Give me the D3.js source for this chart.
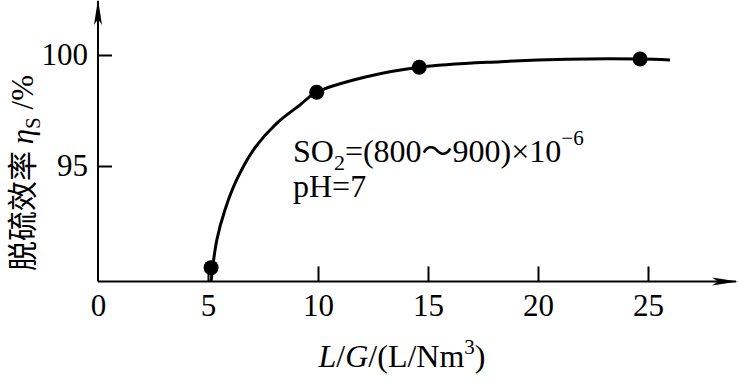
<!DOCTYPE html>
<html>
<head>
<meta charset="utf-8">
<script src="https://cdn.jsdelivr.net/npm/d3@7"></script>
<style>
  html, body { margin: 0; padding: 0; background: #fff; }
  svg { display: block; }
  text { font-family: "Liberation Serif", "Noto Sans CJK SC", serif; fill: #000; }
</style>
</head>
<body>
<div id="chart"></div>
<script>
// measured points (L/G vs desulfurization efficiency)
const pointsX = [5.14, 9.94, 14.6, 24.64];
const pointsY = [90.42, 98.32, 99.45, 99.82];

// fitted curve
const curveX = [5.14, 5.40, 5.77, 6.30, 7.06, 8.12, 9.18, 9.91, 12.2, 14.6, 18.3, 21.3, 24.6, 26.0];
const curveY = [89.8, 91.67, 93.02, 94.37, 95.72, 96.92, 97.75, 98.31, 99.02, 99.45, 99.70, 99.81, 99.82, 99.78];

const xTicks = [0, 5, 10, 15, 20, 25];
const yTicks = [95, 100];

const W = 738, H = 384;
const svg = d3.select('#chart').append('svg')
  .attr('width', W)
  .attr('height', H);

// scales
const x = d3.scaleLinear().domain([0, 25]).range([98, 648]);
const y = d3.scaleLinear().domain([95, 100]).range([166, 55]);
const x0 = x(0), yBase = y(89.8);

// arrow heads
const defs = svg.append('defs');
defs.append('marker')
  .attr('id', 'arrow')
  .attr('viewBox', '0 0 26 10')
  .attr('refX', 24).attr('refY', 5)
  .attr('markerWidth', 26).attr('markerHeight', 10)
  .attr('markerUnits', 'userSpaceOnUse')
  .attr('orient', 'auto')
  .append('path')
  .attr('d', 'M0,1 L26,5 L0,9 L6,5 Z')
  .attr('fill', '#000');

// axis lines
svg.append('line')
  .attr('x1', x0).attr('y1', yBase)
  .attr('x2', 736).attr('y2', yBase)
  .attr('stroke', '#000').attr('stroke-width', 2)
  .attr('marker-end', 'url(#arrow)');
svg.append('line')
  .attr('x1', x0).attr('y1', yBase)
  .attr('x2', x0).attr('y2', 1)
  .attr('stroke', '#000').attr('stroke-width', 2)
  .attr('marker-end', 'url(#arrow)');

// x ticks + labels
const xAxis = d3.axisBottom(x)
  .tickValues(xTicks)
  .tickFormat(d3.format('d'))
  .tickSizeInner(-15).tickSizeOuter(0)
  .tickPadding(13);
const gx = svg.append('g')
  .attr('transform', `translate(0, ${yBase})`)
  .call(xAxis);
gx.select('.domain').remove();
gx.selectAll('line').attr('stroke', '#000').attr('stroke-width', 2)
  .filter(d => d === 0).remove();
gx.selectAll('text').attr('font-size', 31).attr('font-family', 'Liberation Serif');

// y ticks + labels
const yAxis = d3.axisLeft(y)
  .tickValues(yTicks)
  .tickFormat(d3.format('d'))
  .tickSizeInner(-14).tickSizeOuter(0)
  .tickPadding(10);
const gy = svg.append('g')
  .attr('transform', `translate(${x0}, 0)`)
  .call(yAxis);
gy.select('.domain').remove();
gy.selectAll('line').attr('stroke', '#000').attr('stroke-width', 2);
gy.selectAll('text').attr('font-size', 31).attr('font-family', 'Liberation Serif');

// curve
const curveData = curveX.map((d, i) => [d, curveY[i]]);
svg.append('path')
  .datum(curveData)
  .attr('d', d3.line()
    .x(d => x(d[0]))
    .y(d => y(d[1]))
    .curve(d3.curveCatmullRom.alpha(0.5)))
  .attr('fill', 'none')
  .attr('stroke', '#000')
  .attr('stroke-width', 3);

// markers
svg.selectAll('circle.pt')
  .data(pointsX.map((d, i) => [d, pointsY[i]]))
  .enter().append('circle')
  .attr('class', 'pt')
  .attr('cx', d => x(d[0]))
  .attr('cy', d => y(d[1]))
  .attr('r', 7.5)
  .attr('fill', '#000');

// annotation
const ann = svg.append('text')
  .attr('x', 293).attr('y', 162)
  .attr('font-size', 32);
ann.append('tspan').text('SO');
ann.append('tspan').text('2').attr('font-size', 22).attr('dy', 8);
ann.append('tspan').text('=(800').attr('dy', -8);
ann.append('tspan').text('～').attr('font-family', 'Noto Sans CJK SC').attr('font-size', 31);
ann.append('tspan').text('900)×10');
ann.append('tspan').text('−6').attr('font-size', 21).attr('dy', -17);

svg.append('text')
  .attr('x', 293).attr('y', 197)
  .attr('font-size', 32)
  .text('pH=7');

// x axis title
const xt = svg.append('text')
  .attr('x', 402).attr('y', 367)
  .attr('text-anchor', 'middle')
  .attr('font-size', 32);
xt.append('tspan').text('L').attr('font-style', 'italic');
xt.append('tspan').text('/');
xt.append('tspan').text('G').attr('font-style', 'italic');
xt.append('tspan').text('/(L/Nm');
xt.append('tspan').text('3').attr('font-size', 21).attr('dy', -13);
xt.append('tspan').text(')').attr('dy', 13);

// y axis title (rotated)
const yt = svg.append('text')
  .attr('transform', 'translate(33, 173) rotate(-90)')
  .attr('text-anchor', 'middle')
  .attr('font-size', 31);
yt.append('tspan').text('脱硫效率 ').attr('font-family', 'Noto Sans CJK SC').attr('font-size', 30);
yt.append('tspan').text('η').attr('font-style', 'italic');
yt.append('tspan').text('S').attr('font-size', 21).attr('dy', 7);
yt.append('tspan').text(' /%').attr('dy', -7);
</script>
</body>
</html>
